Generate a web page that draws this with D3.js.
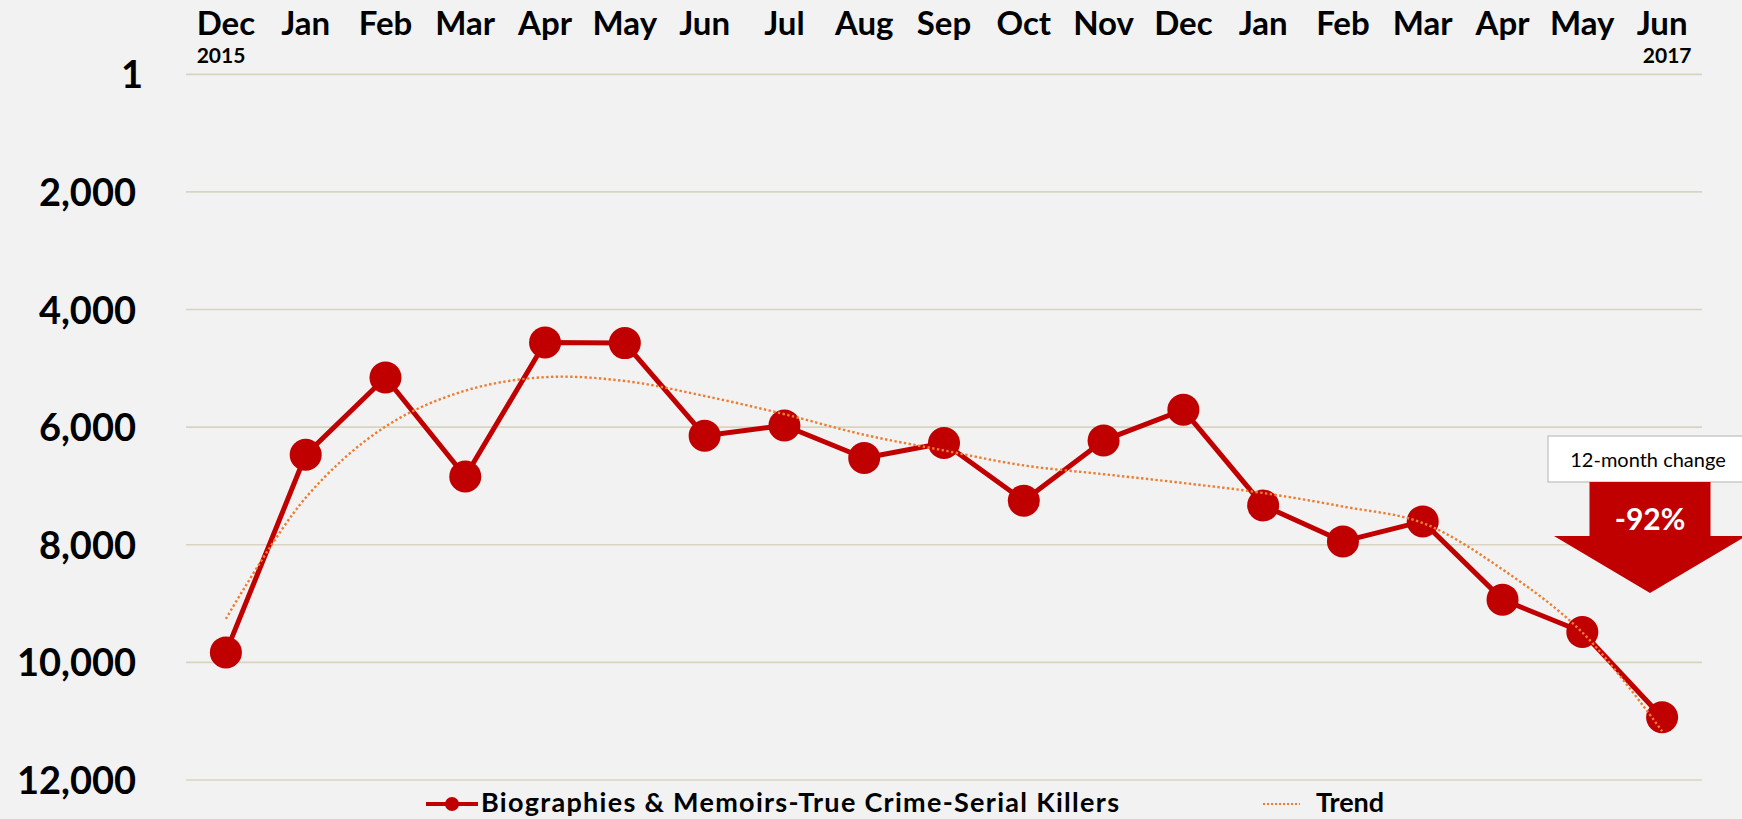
<!DOCTYPE html>
<html>
<head>
<meta charset="utf-8">
<script src="https://cdn.jsdelivr.net/npm/d3@7"></script>
<style>
  html, body { margin: 0; padding: 0; background: #f2f2f2; }
  svg { display: block; }
  text { font-family: Lato, "Open Sans", sans-serif; }
</style>
</head>
<body>
<svg id="chart" width="1742" height="819"></svg>
<script>
// ---- data ----
const months = ["Dec","Jan","Feb","Mar","Apr","May","Jun","Jul","Aug","Sep","Oct","Nov","Dec","Jan","Feb","Mar","Apr","May","Jun"];
const yearLabels = ["2015", "2017"];
const ranks = [9830, 6470, 5155, 6840, 4561, 4571, 6146, 5971, 6525, 6270, 7251, 6226, 5705, 7331, 7943, 7603, 8933, 9483, 10934];
const trend = [9260, 7200, 5990, 5380, 5150, 5215, 5470, 5780, 6130, 6396, 6651, 6800, 6950, 7120, 7350, 7630, 8420, 9490, 11170];
const yTicks = [1, 2000, 4000, 6000, 8000, 10000, 12000];
const seriesNames = ["Biographies & Memoirs-True Crime-Serial Killers", "Trend"];
const calloutTitle = "12-month change";
const calloutValue = "-92%";

// ---- layout ----
const W = 1742, H = 819;
const plot = { left: 186, right: 1702, top: 74.3, bottom: 780 };
const red = "#c00000", orange = "#ed7d31", grid = "#d9d3c1";

const svg = d3.select("#chart");
svg.append("rect").attr("width", W).attr("height", H).attr("fill", "#f2f2f2");

const idx = months.map((d, i) => i);
const x = d3.scaleBand().domain(idx).range([plot.left, plot.right]).padding(0);
const cx = i => x(i) + x.bandwidth() / 2;
const y = d3.scaleLinear().domain([0, 12000]).range([plot.top, plot.bottom]);

// gridlines
svg.append("g").selectAll("line").data(yTicks).join("line")
  .attr("x1", plot.left).attr("x2", plot.right)
  .attr("y1", d => y(d)).attr("y2", d => y(d))
  .attr("stroke", grid).attr("stroke-width", 1.6);

// y tick labels
const fmt = d3.format(",");
svg.append("g").selectAll("text").data(yTicks).join("text")
  .attr("x", d => d === 1 ? 143 : 136)
  .attr("y", d => y(d) + 14)
  .attr("text-anchor", "end")
  .attr("font-weight", 700).attr("font-size", 38).attr("fill", "#000")
  .text(d => fmt(d));

// month labels
const mLabels = svg.append("g").selectAll("text").data(idx).join("text")
  .attr("x", i => cx(i)).attr("y", 35)
  .attr("text-anchor", "middle")
  .attr("font-weight", 700).attr("font-size", 33).attr("fill", "#000")
  .text(i => months[i]);

// year labels
const firstBox = mLabels.nodes()[0].getBBox();
const lastBox = mLabels.nodes()[months.length - 1].getBBox();
svg.append("text").attr("x", firstBox.x).attr("y", 63)
  .attr("font-weight", 700).attr("font-size", 21).text(yearLabels[0]);
svg.append("text").attr("x", lastBox.x + lastBox.width + 4).attr("y", 63)
  .attr("text-anchor", "end")
  .attr("font-weight", 700).attr("font-size", 21).text(yearLabels[1]);

// series line
const line = d3.line().x((d, i) => cx(i)).y(d => y(d));
svg.append("path").datum(ranks)
  .attr("d", line)
  .attr("fill", "none").attr("stroke", red).attr("stroke-width", 5)
  .attr("stroke-linejoin", "round");

svg.append("g").selectAll("circle").data(ranks).join("circle")
  .attr("cx", (d, i) => cx(i)).attr("cy", d => y(d)).attr("r", 16)
  .attr("fill", red);

// trend line (drawn above the series, as in the reference)
const trendLine = d3.line().x((d, i) => cx(i)).y(d => y(d)).curve(d3.curveCatmullRom.alpha(0.5));
svg.append("path").datum(trend)
  .attr("d", trendLine)
  .attr("fill", "none").attr("stroke", orange).attr("stroke-width", 2.4)
  .attr("stroke-dasharray", "2.4 2.4");

// callout
const co = { cx: 1650, boxL: 1548, boxT: 436, boxB: 482, shaftHalf: 60.5, headHalf: 96, headY: 536, tipY: 593 };
svg.append("rect").attr("x", co.boxL).attr("y", co.boxT)
  .attr("width", W - co.boxL + 10).attr("height", co.boxB - co.boxT)
  .attr("fill", "#fff").attr("stroke", "#bfbfbf").attr("stroke-width", 1.2);
svg.append("text").attr("x", 1648).attr("y", 467)
  .attr("text-anchor", "middle").attr("font-size", 20).attr("fill", "#000")
  .text(calloutTitle);
const arrow = d3.path();
arrow.moveTo(co.cx - co.shaftHalf, co.boxB);
arrow.lineTo(co.cx + co.shaftHalf, co.boxB);
arrow.lineTo(co.cx + co.shaftHalf, co.headY);
arrow.lineTo(co.cx + co.headHalf, co.headY);
arrow.lineTo(co.cx, co.tipY);
arrow.lineTo(co.cx - co.headHalf, co.headY);
arrow.lineTo(co.cx - co.shaftHalf, co.headY);
arrow.closePath();
svg.append("path").attr("d", arrow.toString()).attr("fill", red);
svg.append("text").attr("x", co.cx).attr("y", 530)
  .attr("text-anchor", "middle").attr("font-size", 30).attr("font-weight", 700)
  .attr("fill", "#fff").text(calloutValue);

// legend
const lg = svg.append("g");
const ly = 804;
lg.append("line").attr("x1", 426).attr("x2", 478).attr("y1", ly).attr("y2", ly)
  .attr("stroke", red).attr("stroke-width", 4);
lg.append("circle").attr("cx", 452).attr("cy", ly).attr("r", 7).attr("fill", red);
lg.append("text").attr("x", 481).attr("y", 812)
  .attr("font-weight", 700).attr("font-size", 27)
  .attr("textLength", 638).attr("lengthAdjust", "spacing")
  .text(seriesNames[0]);
lg.append("line").attr("x1", 1263).attr("x2", 1300).attr("y1", ly).attr("y2", ly)
  .attr("stroke", orange).attr("stroke-width", 2).attr("stroke-dasharray", "2 2");
lg.append("text").attr("x", 1316).attr("y", 812)
  .attr("font-weight", 700).attr("font-size", 27).text(seriesNames[1]);
</script>
</body>
</html>
